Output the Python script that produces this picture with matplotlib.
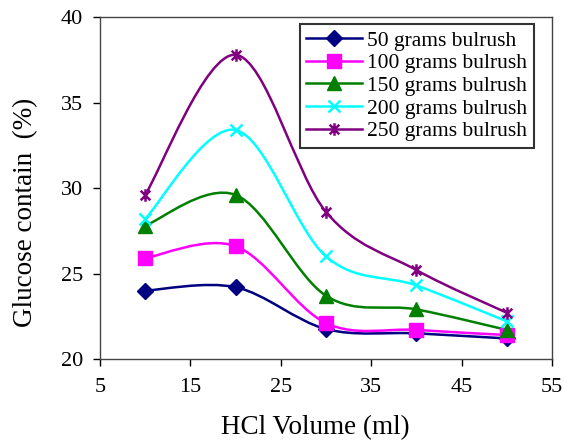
import numpy as np
import matplotlib
matplotlib.use("Agg")
import matplotlib.pyplot as plt
from matplotlib.path import Path
from matplotlib.patches import PathPatch
from matplotlib.lines import Line2D

plt.rcParams['font.family'] = ['Liberation Serif', 'DejaVu Serif']

hcl_volume = [10, 20, 30, 40, 50]
g50 = [24.0, 24.2, 21.75, 21.5, 21.2]
g100 = [25.9, 26.6, 22.1, 21.7, 21.4]
g150 = [27.8, 29.6, 23.7, 22.9, 21.7]
g200 = [28.2, 33.4, 26.0, 24.3, 22.2]
g250 = [29.6, 37.8, 28.6, 25.2, 22.7]
labels = ["50 grams bulrush", "100 grams bulrush", "150 grams bulrush",
          "200 grams bulrush", "250 grams bulrush"]

# asterisk marker like Excel's (x with vertical bar)
star = Path([(-1, -1), (1, 1), (-1, 1), (1, -1), (0, -1.3), (0, 1.3)],
            [Path.MOVETO, Path.LINETO, Path.MOVETO, Path.LINETO, Path.MOVETO, Path.LINETO])

styles = [
    ("#000080", "D", 8, True),
    ("#FF00FF", "s", 10, True),
    ("#008000", "^", 10, True),
    ("#00FFFF", "x", 9, False),
    ("#800080", star, 9, False),
]


def smooth_path(x, y):
    # Excel-like smoothed line: Catmull-Rom segments as cubic Beziers
    pts = np.column_stack([x, y]).astype(float)
    verts = [pts[0]]
    codes = [Path.MOVETO]
    n = len(pts)
    for i in range(n - 1):
        p0 = pts[max(i - 1, 0)]
        p1 = pts[i]
        p2 = pts[i + 1]
        p3 = pts[min(i + 2, n - 1)]
        c1 = p1 + (p2 - p0) / 6
        c2 = p2 - (p3 - p1) / 6
        verts += [c1, c2, p2]
        codes += [Path.CURVE4] * 3
    return Path(verts, codes)


fig = plt.figure(figsize=(5.71, 4.41), dpi=100)
ax = fig.add_axes([0.175, 0.186, 0.792, 0.775])

handles = []
for series, (col, mk, ms, filled) in zip([g50, g100, g150, g200, g250], styles):
    mew = 1 if filled else 1.8
    ax.add_patch(PathPatch(smooth_path(hcl_volume, series), facecolor='none',
                           edgecolor=col, lw=1.8, zorder=2))
    ax.plot(hcl_volume, series, ls='none', marker=mk, ms=ms, color=col,
            mew=mew, zorder=3)
    handles.append(Line2D([], [], color=col, lw=1.8, marker=mk, ms=ms, mew=mew))

ax.set_xlim(5, 55)
ax.set_ylim(20, 40)
ax.set_xticks(range(5, 56, 10))
ax.set_yticks(range(20, 41, 5))
ax.tick_params(direction='out', labelsize=16, length=5, width=1, colors='black')
ax.tick_params(axis='x', pad=9)
ax.tick_params(axis='y', pad=7)
ax.set_xlabel("HCl Volume (ml)", fontsize=19.5)
ax.set_ylabel("Glucose contain  (%)", fontsize=19.5)
ax.xaxis.set_label_coords(0.476, -0.164)
ax.yaxis.set_label_coords(-0.137, 0.43)
for s in ax.spines.values():
    s.set_color('#444444')
    s.set_linewidth(1)

leg = ax.legend(handles, labels, loc='upper right', bbox_to_anchor=(0.96, 0.98),
                fontsize=15.5, frameon=True, fancybox=False, handlelength=2.6,
                borderpad=0.3, labelspacing=0.12, handletextpad=0.25, borderaxespad=0)
leg.get_frame().set_edgecolor('black')
leg.get_frame().set_linewidth(1.5)

fig.savefig("out.png", dpi=100)
